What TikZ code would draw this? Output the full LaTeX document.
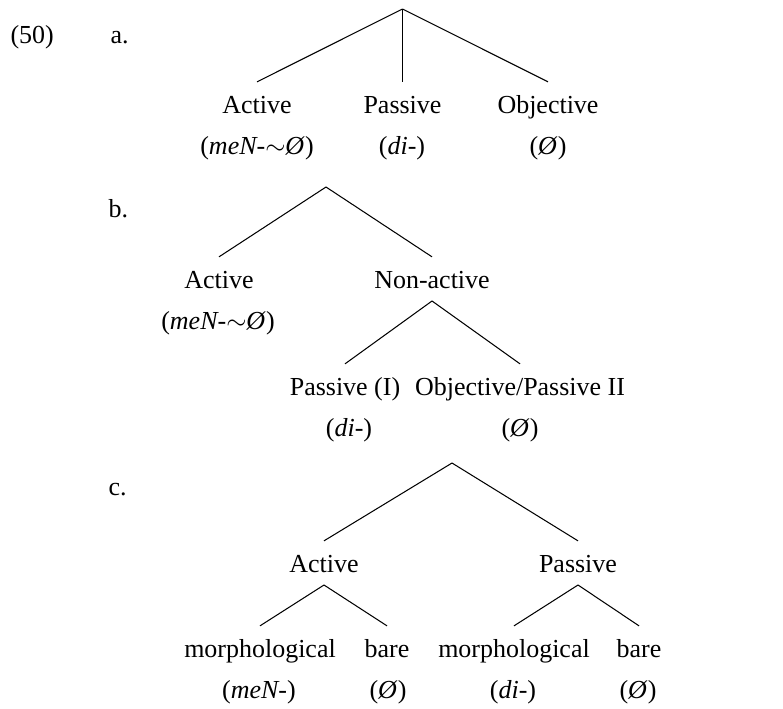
\documentclass[tikz,border=0pt]{standalone}
\IfFileExists{pplr8t.tfm}{\usepackage[T1]{fontenc}\usepackage{mathpazo}}{\usepackage{fontspec}\setmainfont{Liberation Serif}}
\usepackage{tikz}

\newcommand{\nul}{\textit{\O}}

\begin{document}
\begin{tikzpicture}[x=0.385pt,y=-0.385pt]
\tikzstyle{every node}+=[inner sep=0pt]
\tikzstyle{cat}=[anchor=base, text height=7pt, text depth=0pt, outer ysep=5pt]
\tikzstyle{gloss}=[anchor=base]
\tikzstyle{num}=[anchor=base west]
\tikzstyle{branch}=[black, line width=0.4pt]
\useasboundingbox (0,0) rectangle (783,708);
% example number and sub-labels
\node [num] (ex) at (10,43) {(50)};
\node [num] (la) at (110,43) {a.};
\node [num] (lb) at (108,217) {b.};
\node [num] (lc) at (108,495) {c.};
% (a)
\coordinate (a0) at (402.5,9);
\node [cat] (aAct) at (257,113) {Active};
\node [cat] (aPas) at (402.5,113) {Passive};
\node [cat] (aObj) at (548,113) {Objective};
\node [gloss] (aActG) at (257,154) {(\textit{meN-}$\sim$\nul)};
\node [gloss] (aPasG) at (402,154) {(\textit{di-})};
\node [gloss] (aObjG) at (548,154) {(\nul)};
\draw [branch] (a0) -- (aAct.north);
\draw [branch] (a0) -- (aPas.north);
\draw [branch] (a0) -- (aObj.north);
% (b)
\coordinate (b0) at (326,187);
\node [cat] (bAct) at (219,288) {Active};
\node [cat] (bNon) at (432,288) {Non-active};
\node [gloss] (bActG) at (218,329) {(\textit{meN-}$\sim$\nul)};
\node [cat] (bPas) at (345,395) {Passive (I)};
\node [cat] (bObj) at (520,395) {Objective/Passive II};
\node [gloss] (bPasG) at (349,436) {(\textit{di-})};
\node [gloss] (bObjG) at (520,436) {(\nul)};
\draw [branch] (b0) -- (bAct.north);
\draw [branch] (b0) -- (bNon.north);
\draw [branch] (bNon.south) -- (bPas.north);
\draw [branch] (bNon.south) -- (bObj.north);
% (c)
\coordinate (c0) at (452,463);
\node [cat] (cAct) at (324,572) {Active};
\node [cat] (cPas) at (578,572) {Passive};
\node [cat] (cAM) at (260,657) {morphological};
\node [cat] (cAB) at (387,657) {bare};
\node [cat] (cPM) at (514,657) {morphological};
\node [cat] (cPB) at (639,657) {bare};
\node [gloss] (cAMG) at (259,698) {(\textit{meN-})};
\node [gloss] (cABG) at (388,698) {(\nul)};
\node [gloss] (cPMG) at (513,698) {(\textit{di-})};
\node [gloss] (cPBG) at (638,698) {(\nul)};
\draw [branch] (c0) -- (cAct.north);
\draw [branch] (c0) -- (cPas.north);
\draw [branch] (cAct.south) -- (cAM.north);
\draw [branch] (cAct.south) -- (cAB.north);
\draw [branch] (cPas.south) -- (cPM.north);
\draw [branch] (cPas.south) -- (cPB.north);
\end{tikzpicture}
\end{document}
